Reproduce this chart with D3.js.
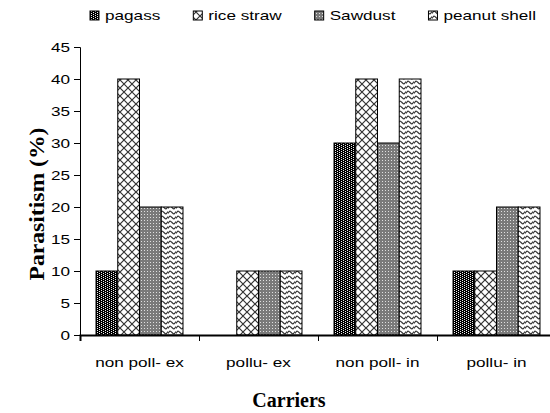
<!DOCTYPE html>
<html>
  <head>
    <script src="https://d3js.org/d3.v7.min.js"></script>
    <style>
      body { margin: 0; background: #fff; }
      .sans { font-family: "Liberation Sans", Arial, sans-serif; font-size: 12px; fill: #000; }
      .title { font-family: "Liberation Serif", "Times New Roman", serif; font-weight: bold; font-size: 20px; fill: #000; }
    </style>
  </head>
  <body>
    <svg width="550" height="413"></svg>
    <script>
      const categories = ["non poll- ex", "pollu- ex", "non poll- in", "pollu- in"];
      const seriesNames = ["pagass", "rice straw", "Sawdust", "peanut shell"];
      const pagass = [10, 0, 30, 10];
      const riceStraw = [40, 10, 40, 10];
      const sawdust = [20, 10, 30, 20];
      const peanutShell = [20, 10, 40, 20];
      const yTicks = [0, 5, 10, 15, 20, 25, 30, 35, 40, 45];
      const seriesValues = [pagass, riceStraw, sawdust, peanutShell];

      const stretch = 1.43;
      const svg = d3.select("svg");
      const defs = svg.append("defs");

      // fill patterns
      const p1 = defs.append("pattern").attr("id", "pat0")
        .attr("patternUnits", "userSpaceOnUse").attr("width", 4).attr("height", 2);
      p1.append("rect").attr("width", 4).attr("height", 2).attr("fill", "#000");
      p1.append("rect").attr("x", 1).attr("y", 0).attr("width", 1).attr("height", 1).attr("fill", "#eee");
      p1.append("rect").attr("x", 3).attr("y", 1).attr("width", 1).attr("height", 1).attr("fill", "#eee");

      const p2 = defs.append("pattern").attr("id", "pat1")
        .attr("patternUnits", "userSpaceOnUse").attr("width", 8).attr("height", 8);
      p2.append("rect").attr("width", 8).attr("height", 8).attr("fill", "#fff");
      p2.append("path").attr("d", "M0,0L8,8M8,0L0,8")
        .attr("stroke", "#333").attr("stroke-width", 1.2);

      const p3 = defs.append("pattern").attr("id", "pat2")
        .attr("patternUnits", "userSpaceOnUse").attr("width", 3).attr("height", 3);
      p3.append("rect").attr("width", 3).attr("height", 3).attr("fill", "#7a7a7a");
      p3.append("rect").attr("x", 1).attr("y", 1).attr("width", 1).attr("height", 1).attr("fill", "#e0e0e0");

      const p4 = defs.append("pattern").attr("id", "pat3")
        .attr("patternUnits", "userSpaceOnUse").attr("width", 8).attr("height", 5);
      p4.append("rect").attr("width", 8).attr("height", 5).attr("fill", "#fff");
      p4.append("path").attr("d", "M0,3.5C2,0.5 2,0.5 4,2.5S6,4.5 8,1.5")
        .attr("fill", "none").attr("stroke", "#333").attr("stroke-width", 1.1);

      const x0 = d3.scaleBand().domain(categories).range([80, 556]).padding(0);
      const x1 = d3.scaleBand().domain(seriesNames).range([16, x0.bandwidth() - 16]);
      const y = d3.scaleLinear().domain([0, 45]).range([335, 47]);

      // bars
      const groups = svg.append("g").selectAll("g")
        .data(categories)
        .join("g")
          .attr("transform", d => `translate(${x0(d)},0)`);
      groups.selectAll("rect")
        .data((c, ci) => seriesNames.map((s, si) => ({s, si, v: seriesValues[si][ci]})))
        .join("rect")
          .filter(d => d.v > 0)
          .attr("x", d => x1(d.s))
          .attr("y", d => y(d.v))
          .attr("width", x1.bandwidth())
          .attr("height", d => y(0) - y(d.v))
          .attr("fill", d => `url(#pat${d.si})`)
          .attr("stroke", "#000")
          .attr("stroke-width", 1);

      // y axis
      const yAxisG = svg.append("g")
        .attr("transform", "translate(80,0)")
        .call(d3.axisLeft(y).tickValues(yTicks).tickSizeOuter(0).tickSize(6));
      yAxisG.selectAll("path, line").attr("stroke", "#000");
      yAxisG.selectAll("text")
        .attr("class", "sans")
        .attr("x", 0)
        .attr("dy", "0.35em")
        .attr("transform", `translate(-10,0) scale(${stretch},1)`);

      // x axis
      const xBound = d3.scaleLinear().domain([0, 4]).range([80, 556]);
      const xAxisG = svg.append("g")
        .attr("transform", "translate(0,335)")
        .call(d3.axisBottom(xBound).ticks(4).tickFormat("").tickSizeOuter(0).tickSize(6));
      xAxisG.selectAll("path, line").attr("stroke", "#000");
      xAxisG.select(".domain").attr("stroke-width", 2);

      svg.append("g").selectAll("text")
        .data(categories)
        .join("text")
          .attr("class", "sans")
          .attr("text-anchor", "middle")
          .attr("transform", d => `translate(${x0(d) + x0.bandwidth() / 2},367) scale(${stretch},1)`)
          .text(d => d);

      // axis titles
      svg.append("text")
        .attr("class", "title")
        .attr("text-anchor", "middle")
        .attr("font-size", 18)
        .attr("transform", "translate(44,204) rotate(-90)")
        .attr("textLength", 153)
        .attr("lengthAdjust", "spacingAndGlyphs")
        .text("Parasitism (%)");
      svg.append("text")
        .attr("class", "title")
        .attr("text-anchor", "middle")
        .attr("x", 289)
        .attr("y", 407)
        .text("Carriers");

      // legend
      const legend = svg.append("g");
      let lx = 90;
      seriesNames.forEach((s, i) => {
        legend.append("rect")
          .attr("x", lx).attr("y", 11)
          .attr("width", 9).attr("height", 9)
          .attr("fill", `url(#pat${i})`)
          .attr("stroke", "#000");
        const t = legend.append("text")
          .attr("class", "sans")
          .attr("transform", `translate(${lx + 15},20) scale(${stretch},1)`)
          .text(s);
        lx += 15 + t.node().getComputedTextLength() * stretch + 33;
      });
    </script>
  </body>
</html>
